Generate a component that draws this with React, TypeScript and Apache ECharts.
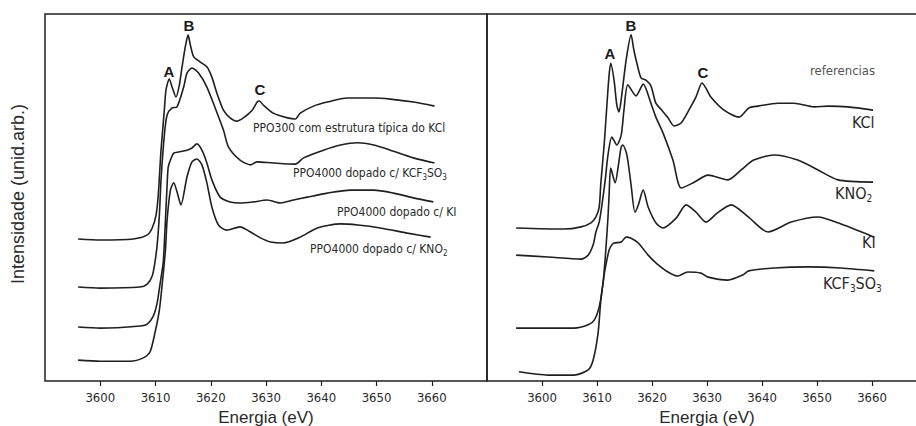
import React, { useEffect, useRef } from "react";
import * as echarts from "echarts";

// Energy ticks (eV)
const tickValues = [3600, 3610, 3620, 3630, 3640, 3650, 3660];

// ---- Left panel: doped PPO samples  [energy (eV), intensity (arb.)]
const ppo300KCl: [number, number][] = [
  [3596.0, 38.7], [3600.0, 38.4], [3606.0, 38.7], [3608.5, 39.8], [3609.4, 41.7], [3610.1, 45.2],
  [3610.5, 50.7], [3611.0, 62.9], [3611.6, 73.8], [3611.9, 79.3], [3612.5, 82.3], [3613.0, 80.1],
  [3613.7, 77.4], [3614.3, 80.5], [3614.8, 85.5], [3615.4, 91.1], [3615.9, 94.3], [3616.3, 91.6],
  [3616.9, 88.4], [3618.0, 87.0], [3619.3, 85.6], [3620.2, 82.8], [3621.1, 78.5], [3622.3, 73.8],
  [3623.5, 71.7], [3624.7, 70.8], [3625.9, 71.7], [3627.5, 73.8], [3628.4, 76.0], [3628.8, 76.3],
  [3629.5, 75.2], [3631.3, 73.0], [3633.9, 71.7], [3635.3, 71.4], [3636.2, 73.0], [3638.6, 74.9],
  [3641.1, 76.0], [3644.7, 77.1], [3649.5, 77.1], [3652.5, 76.8], [3656.7, 76.0], [3660.5, 74.9],
];
const ppo4000KCF3SO3: [number, number][] = [
  [3596.0, 25.6], [3600.0, 25.3], [3607.2, 25.6], [3608.5, 26.4], [3609.4, 28.6], [3609.9, 32.4],
  [3610.3, 37.1], [3610.7, 45.2], [3611.0, 54.8], [3611.6, 67.0], [3612.1, 72.5], [3613.0, 74.4],
  [3613.9, 74.7], [3615.1, 80.1], [3615.7, 83.9], [3616.6, 85.3], [3617.8, 83.9], [3619.3, 80.1],
  [3620.8, 74.4], [3622.3, 68.4], [3623.2, 63.8], [3625.3, 60.2], [3627.2, 58.9], [3628.4, 59.7],
  [3631.3, 59.4], [3635.3, 59.1], [3636.8, 60.8], [3640.4, 62.9], [3643.5, 64.3], [3646.6, 64.9],
  [3649.5, 64.3], [3652.5, 62.9], [3656.7, 60.8], [3660.5, 59.4],
];
const ppo4000KI: [number, number][] = [
  [3596.0, 14.7], [3600.0, 14.4], [3607.2, 15.0], [3608.5, 15.5], [3609.6, 17.7], [3610.3, 21.3],
  [3610.8, 26.2], [3611.4, 32.4], [3611.8, 43.9], [3612.1, 53.4], [3612.3, 58.3], [3612.7, 60.2],
  [3613.3, 62.1], [3614.2, 62.4], [3615.7, 62.9], [3616.6, 63.5], [3617.5, 64.6], [3618.4, 62.9],
  [3619.3, 59.4], [3620.2, 54.8], [3621.7, 50.1], [3623.5, 48.8], [3625.3, 48.5], [3627.7, 48.8],
  [3630.2, 49.3], [3632.6, 48.5], [3635.0, 49.3], [3637.5, 50.1], [3641.1, 51.2], [3645.3, 52.0],
  [3649.5, 52.0], [3653.1, 51.2], [3656.7, 49.9], [3660.3, 48.8],
];
const ppo4000KNO2: [number, number][] = [
  [3596.0, 5.7], [3600.0, 5.4], [3605.4, 5.4], [3607.8, 6.3], [3609.0, 7.9], [3609.9, 13.1],
  [3610.7, 19.3], [3611.2, 26.2], [3611.8, 35.7], [3612.1, 43.9], [3612.7, 52.0], [3613.3, 54.0],
  [3613.9, 51.5], [3614.6, 48.0], [3615.7, 55.6], [3616.6, 59.7], [3617.5, 60.5], [3618.4, 58.9],
  [3619.3, 54.0], [3620.2, 47.4], [3621.4, 42.5], [3622.9, 41.1], [3625.3, 42.0], [3627.2, 40.6],
  [3629.0, 39.0], [3630.8, 37.9], [3633.1, 37.6], [3636.2, 39.2], [3639.3, 41.7], [3643.5, 42.8],
  [3646.6, 42.5], [3650.7, 41.7], [3655.6, 40.3], [3659.8, 39.2],
];

// ---- Right panel: reference salts
const refKCl: [number, number][] = [
  [3595.3, 41.7], [3604.0, 41.4], [3607.1, 42.0], [3608.9, 43.1], [3609.8, 44.7], [3610.4, 47.4],
  [3610.7, 54.0], [3611.3, 64.3], [3611.8, 75.2], [3612.2, 83.4], [3612.5, 86.6], [3613.1, 82.0],
  [3613.6, 75.2], [3614.0, 73.3], [3614.5, 77.9], [3615.3, 87.5], [3616.2, 94.3], [3616.7, 90.2],
  [3617.3, 86.3], [3618.0, 82.6], [3618.9, 82.0], [3619.8, 80.4], [3620.7, 75.7], [3621.6, 74.1],
  [3622.9, 71.7], [3624.0, 69.5], [3625.3, 70.3], [3626.7, 73.8], [3628.0, 77.4], [3629.1, 81.2],
  [3629.8, 79.8], [3630.7, 77.4], [3633.1, 73.8], [3635.8, 71.9], [3637.6, 74.4], [3639.3, 74.9],
  [3642.9, 75.7], [3645.8, 75.7], [3649.5, 74.7], [3652.0, 74.9], [3655.6, 74.7], [3660.2, 73.8],
];
const refKNO2: [number, number][] = [
  [3595.3, 34.3], [3601.1, 33.8], [3607.1, 33.2], [3608.4, 34.3], [3609.3, 37.1], [3609.8, 40.6],
  [3610.4, 43.3], [3610.9, 48.0], [3611.5, 54.8], [3612.0, 61.6], [3612.7, 66.5], [3613.6, 64.3],
  [3614.4, 67.0], [3614.9, 73.8], [3615.6, 80.7], [3617.1, 77.7], [3618.4, 80.9], [3619.8, 75.7],
  [3620.7, 71.9], [3622.0, 67.6], [3623.8, 60.2], [3625.3, 52.6], [3627.5, 54.0], [3630.2, 56.1],
  [3633.8, 54.8], [3636.2, 57.5], [3638.5, 60.2], [3642.2, 61.6], [3646.5, 60.2], [3650.2, 57.5],
  [3653.8, 54.8], [3660.2, 54.2],
];
const refKI: [number, number][] = [
  [3595.3, 14.4], [3601.1, 14.4], [3605.8, 14.4], [3608.4, 15.3], [3609.5, 16.6], [3610.4, 20.2],
  [3611.1, 26.7], [3611.6, 35.7], [3612.0, 44.7], [3612.2, 50.7], [3612.5, 58.0], [3613.3, 54.0],
  [3613.9, 58.9], [3614.4, 63.8], [3614.7, 64.3], [3615.3, 62.4], [3615.6, 60.2], [3616.2, 53.4],
  [3616.9, 46.0], [3617.5, 47.9], [3618.4, 52.0], [3619.3, 47.4], [3620.7, 43.1], [3622.0, 41.7],
  [3624.4, 44.4], [3626.2, 48.0], [3628.0, 46.0], [3629.8, 43.3], [3631.9, 45.8], [3634.4, 48.0],
  [3637.5, 44.7], [3641.1, 40.6], [3645.3, 43.3], [3650.2, 44.7], [3653.8, 43.1], [3660.4, 39.2],
];
const refKCF3SO3: [number, number][] = [
  [3595.8, 2.5], [3601.1, 1.6], [3605.8, 1.6], [3608.4, 3.0], [3609.3, 5.7], [3610.2, 13.1],
  [3610.7, 22.1], [3611.3, 28.9], [3611.6, 31.5], [3612.2, 35.7], [3612.7, 37.1], [3613.1, 37.6],
  [3614.4, 37.9], [3615.3, 39.2], [3616.2, 38.9], [3617.5, 37.6], [3619.3, 34.3], [3620.7, 32.2],
  [3622.9, 29.7], [3624.7, 28.6], [3626.5, 29.7], [3628.9, 29.4], [3630.2, 28.3], [3633.8, 27.5],
  [3636.5, 28.9], [3637.6, 30.0], [3642.2, 30.8], [3648.4, 31.1], [3654.4, 30.8], [3660.4, 30.0],
];

const INK = "#1f1f1f";
const NARROW = "'Liberation Sans Narrow', 'DejaVu Sans Condensed', 'Liberation Sans', sans-serif";
const SANS = "'Liberation Sans', Arial, sans-serif";

function lineSeries(name: string, data: [number, number][], idx: number) {
  return {
    name,
    type: "line",
    xAxisIndex: idx,
    yAxisIndex: idx,
    data,
    showSymbol: false,
    symbol: "none",
    smooth: 0.25,
    silent: true,
    lineStyle: { color: INK, width: 1.6 },
  };
}

function xAxisFor(idx: number) {
  return {
    type: "value",
    gridIndex: idx,
    min: 3590,
    max: 3670,
    interval: 10,
    axisLine: { show: false },
    axisTick: { show: true, length: 5, inside: false, customValues: tickValues, lineStyle: { color: INK, width: 1.2 } },
    axisLabel: {
      customValues: tickValues,
      formatter: (v: number) => String(v),
      fontSize: 13,
      fontFamily: NARROW,
      color: "#2a2a2a",
      margin: 10,
    },
    splitLine: { show: false },
    name: "Energia (eV)",
    nameLocation: "middle",
    nameGap: 22,
    nameTextStyle: { fontSize: 17, lineHeight: 18, fontFamily: SANS, color: "#2a2a2a" },
  };
}

function yAxisFor(idx: number) {
  return {
    type: "value",
    gridIndex: idx,
    min: 0,
    max: 100,
    axisLine: { show: false },
    axisTick: { show: false },
    axisLabel: { show: false },
    splitLine: { show: false },
  };
}

const subRich = {
  n: { fontSize: 12, fontFamily: NARROW, color: "#2a2a2a", padding: [0, 0, 3, 0], lineHeight: 14, verticalAlign: "top" },
  s: { fontSize: 8, fontFamily: NARROW, color: "#2a2a2a", lineHeight: 8, verticalAlign: "bottom" },
  N: { fontSize: 16, fontFamily: NARROW, color: "#2a2a2a", padding: [0, 0, 4, 0], lineHeight: 18, verticalAlign: "top" },
  S: { fontSize: 10, fontFamily: NARROW, color: "#2a2a2a", lineHeight: 10, verticalAlign: "bottom" },
};

function txt(x: number, y: number, text: string, extra: any = {}) {
  return {
    type: "text",
    x,
    y,
    silent: true,
    style: {
      text,
      fill: "#2a2a2a",
      fontFamily: NARROW,
      fontSize: 12,
      align: "left",
      verticalAlign: "middle",
      ...extra,
    },
  };
}

function peak(x: number, y: number, t: string) {
  return txt(x, y, t, { fontFamily: SANS, fontWeight: "bold", fontSize: 15, align: "center", fill: "#1a1a1a" });
}

const gridBase = {
  top: 14,
  height: 367,
  show: true,
  borderColor: INK,
  borderWidth: 1.5,
  backgroundColor: "transparent",
  containLabel: false,
  outerBoundsMode: "none",
};

const option = {
  animation: false,
  backgroundColor: "#ffffff",
  grid: [
    { ...gridBase, left: 45, width: 442 },
    { ...gridBase, left: 487, width: 440 },
  ],
  xAxis: [xAxisFor(0), xAxisFor(1)],
  yAxis: [yAxisFor(0), yAxisFor(1)],
  series: [
    lineSeries("PPO300 com estrutura típica do KCl", ppo300KCl, 0),
    lineSeries("PPO4000 dopado c/ KCF3SO3", ppo4000KCF3SO3, 0),
    lineSeries("PPO4000 dopado c/ KI", ppo4000KI, 0),
    lineSeries("PPO4000 dopado c/ KNO2", ppo4000KNO2, 0),
    lineSeries("KCl", refKCl, 1),
    lineSeries("KNO2", refKNO2, 1),
    lineSeries("KI", refKI, 1),
    lineSeries("KCF3SO3", refKCF3SO3, 1),
  ],
  graphic: [
    {
      type: "text",
      x: 18,
      y: 194,
      rotation: Math.PI / 2,
      silent: true,
      style: { text: "Intensidade (unid.arb.)", fontFamily: SANS, fontSize: 18, fill: "#2a2a2a", align: "center", verticalAlign: "middle" },
    },
    peak(169, 71, "A"),
    peak(189, 25, "B"),
    peak(260, 89, "C"),
    peak(610, 53, "A"),
    peak(631, 25, "B"),
    peak(703, 72, "C"),
    txt(253, 128, "PPO300 com estrutura típica do KCl", { fontSize: 12 }),
    txt(293, 174, "{n|PPO4000 dopado c/ KCF}{s|3}{n|SO}{s|3}", { rich: subRich }),
    txt(337, 212, "PPO4000 dopado c/ KI", { fontSize: 12 }),
    txt(310, 250, "{n|PPO4000 dopado c/ KNO}{s|2}", { rich: subRich }),
    txt(810, 70, "referencias", { fontSize: 13, fill: "#555555" }),
    txt(852, 122, "KCl", { fontSize: 16 }),
    txt(835, 194, "{N|KNO}{S|2}", { rich: subRich }),
    txt(862, 242, "KI", { fontSize: 16 }),
    txt(823, 284, "{N|KCF}{S|3}{N|SO}{S|3}", { rich: subRich }),
  ],
};

export default function App() {
  const ref = useRef<HTMLDivElement>(null);
  useEffect(() => {
    if (!ref.current) return;
    const chart = echarts.init(ref.current, undefined, { renderer: "svg" });
    chart.setOption(option as any);
    return () => chart.dispose();
  }, []);
  return (
    <div
      ref={ref}
      style={{ position: "fixed", left: 0, top: 0, width: 916, height: 426, background: "#ffffff" }}
    />
  );
}
